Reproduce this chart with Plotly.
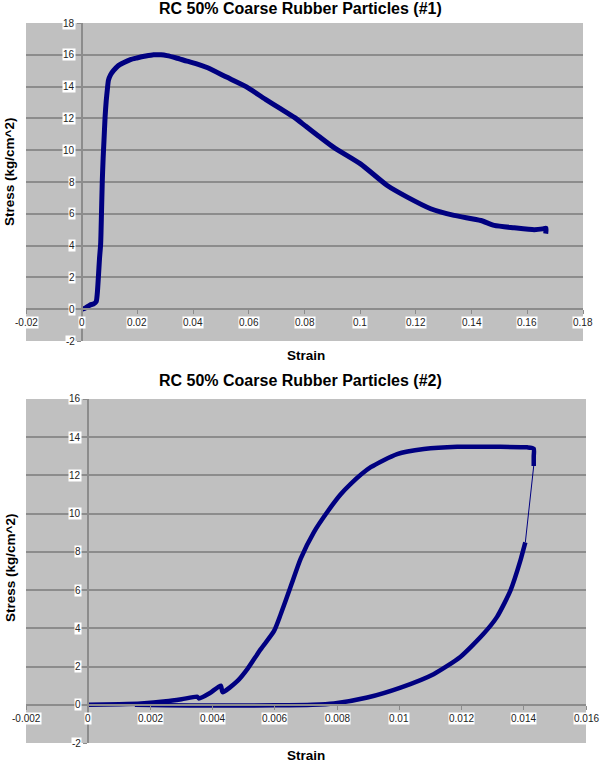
import plotly.graph_objects as go

# ---------------- data ----------------
strain1 = [0, 0.0012, 0.003, 0.0042, 0.0052, 0.0056, 0.006, 0.0064, 0.0068, 0.0071, 0.0074, 0.0077,
           0.008, 0.0084, 0.0088, 0.0092, 0.0096, 0.0104, 0.0114, 0.013, 0.015, 0.0175, 0.0198, 0.023,
           0.0258, 0.0285, 0.0306, 0.034, 0.0378, 0.041, 0.045, 0.052, 0.059, 0.066, 0.0715, 0.0765,
           0.0805, 0.085, 0.0905, 0.1001, 0.1097, 0.1169, 0.1253, 0.1337, 0.1433, 0.1481, 0.1553,
           0.1625, 0.1655, 0.1667, 0.1666]
stress1 = [0, 0.06, 0.27, 0.33, 0.48, 1.0, 2.05, 3.2, 4.1, 6.0, 8.1, 9.5,
           10.6, 12.1, 13.1, 13.8, 14.4, 14.75, 15.0, 15.3, 15.5, 15.7, 15.8, 15.92,
           16.0, 16.0, 15.95, 15.8, 15.6, 15.45, 15.2, 14.6, 14.0, 13.2, 12.6, 12.05,
           11.5, 10.9, 10.18, 9.14, 7.78, 7.05, 6.32, 5.9, 5.58, 5.27, 5.12,
           5.0, 5.05, 5.1, 4.75]

strain2_load = [0, 0.001, 0.0017, 0.0025, 0.003, 0.00351, 0.00356, 0.0039, 0.00426, 0.00432,
                0.0048, 0.00512, 0.00554, 0.00597, 0.00619, 0.00651, 0.00683, 0.00726, 0.00769,
                0.00811, 0.00843, 0.00908, 0.00993, 0.01079, 0.01186, 0.01314, 0.01411, 0.01432,
                0.01432, 0.01432]
stress2_load = [0, 0.03, 0.07, 0.18, 0.29, 0.42, 0.33, 0.6, 1.0, 0.66,
                1.25, 1.88, 2.9, 3.85, 4.75, 6.2, 7.65, 9.05, 10.1,
                11.0, 11.55, 12.43, 13.12, 13.38, 13.5, 13.5, 13.47, 13.4,
                13.0, 12.5]
strain2_unload = [0.01405, 0.01395, 0.01389, 0.01357, 0.01314, 0.0127, 0.01196, 0.0111,
                  0.01004, 0.00897, 0.0079, 0.0072, 0.006, 0.004, 0.0025, 0.0015]
stress2_unload = [8.5, 7.9, 7.54, 5.97, 4.6, 3.7, 2.5, 1.6,
                  0.9, 0.38, 0.07, 0.0, -0.03, -0.04, -0.03, 0.0]

x1_ticks = [-0.02, 0, 0.02, 0.04, 0.06, 0.08, 0.1, 0.12, 0.14, 0.16, 0.18]
x1_labels = ["-0.02", "0", "0.02", "0.04", "0.06", "0.08", "0.1", "0.12", "0.14", "0.16", "0.18"]
y1_ticks = [-2, 0, 2, 4, 6, 8, 10, 12, 14, 16, 18]
y1_labels = ["-2", "0", "2", "4", "6", "8", "10", "12", "14", "16", "18"]
x2_ticks = [-0.002, 0, 0.002, 0.004, 0.006, 0.008, 0.01, 0.012, 0.014, 0.016]
x2_labels = ["-0.002", "0", "0.002", "0.004", "0.006", "0.008", "0.01", "0.012", "0.014", "0.016"]
y2_ticks = [-2, 0, 2, 4, 6, 8, 10, 12, 14, 16]
y2_labels = ["-2", "0", "2", "4", "6", "8", "10", "12", "14", "16"]

title1 = "RC 50% Coarse Rubber Particles (#1)"
title2 = "RC 50% Coarse Rubber Particles (#2)"
xtitle = "Strain"
ytitle = "Stress (kg/cm^2)"

# ---------------- layout geometry ----------------
W, H = 600, 762
FONT = "Liberation Sans, Arial, sans-serif"
NAVY = "#000080"
GRID = "#8C8C8C"

def xdom(l, r):
    return [l / W, r / W]

def ydom(t, b):
    return [1 - b / H, 1 - t / H]

dx1, dy1 = xdom(26, 583), ydom(23, 341)
dx2, dy2 = xdom(26, 586), ydom(399, 743)
rx1, ry1 = [-0.02, 0.18], [-2, 18]
rx2, ry2 = [-0.002, 0.016], [-2, 16]

def zero_pos(dom, rng):
    return dom[0] + (0 - rng[0]) / (rng[1] - rng[0]) * (dom[1] - dom[0])

fig = go.Figure()
fig.add_trace(go.Scatter(x=strain1, y=stress1, mode="lines",
                         line=dict(color=NAVY, width=5, shape="spline", smoothing=0.6),
                         xaxis="x", yaxis="y", showlegend=False))
fig.add_trace(go.Scatter(x=strain2_load, y=stress2_load, mode="lines",
                         line=dict(color=NAVY, width=4.5, shape="spline", smoothing=0.6),
                         xaxis="x2", yaxis="y2", showlegend=False))
fig.add_trace(go.Scatter(x=[strain2_load[-1], strain2_unload[0]],
                         y=[stress2_load[-1], stress2_unload[0]], mode="lines",
                         line=dict(color=NAVY, width=1), xaxis="x2", yaxis="y2",
                         showlegend=False))
fig.add_trace(go.Scatter(x=strain2_unload, y=stress2_unload, mode="lines",
                         line=dict(color=NAVY, width=4.5, shape="spline", smoothing=0.6),
                         xaxis="x2", yaxis="y2", showlegend=False))

def xax(dom, rng, ticks, ydomain, yrng):
    return dict(domain=dom, range=rng, tickvals=ticks, showticklabels=False,
                showgrid=False, zeroline=False, anchor="free",
                position=zero_pos(ydomain, yrng), ticks="outside", ticklen=4,
                tickcolor=GRID, tickwidth=1, showline=True, linecolor=GRID,
                linewidth=1.5, fixedrange=True)

def yax(dom, rng, ticks, xdomain, xrng):
    return dict(domain=dom, range=rng, tickvals=ticks, showticklabels=False,
                showgrid=True, gridcolor=GRID, gridwidth=2, zeroline=False,
                anchor="free", position=zero_pos(xdomain, xrng), ticks="outside",
                ticklen=4, tickcolor=GRID, tickwidth=1, showline=True,
                linecolor=GRID, linewidth=1.5, fixedrange=True)

annotations = []
def tick_labels(xref, yref, xt, xl, yt, yl, yshift):
    for v, t in zip(xt, xl):
        annotations.append(dict(x=v, y=0, xref=xref, yref=yref, text=t, showarrow=False,
                                yshift=yshift, xanchor="center", yanchor="middle",
                                bgcolor="white", borderpad=0,
                                font=dict(family=FONT, size=10, color="#222")))
    for v, t in zip(yt, yl):
        annotations.append(dict(x=0, y=v, xref=xref, yref=yref, text=t, showarrow=False,
                                xshift=-6, xanchor="right", yanchor="middle",
                                bgcolor="white", borderpad=0,
                                font=dict(family=FONT, size=10, color="#222")))

tick_labels("x", "y", x1_ticks, x1_labels, y1_ticks, y1_labels, -13.5)
tick_labels("x2", "y2", x2_ticks, x2_labels, y2_ticks, y2_labels, -14)

def paper_text(text, px, py, size, angle=0):
    annotations.append(dict(x=px / W, y=1 - py / H, xref="paper", yref="paper",
                            text="<b>" + text + "</b>", showarrow=False, textangle=angle,
                            xanchor="center", yanchor="middle",
                            font=dict(family=FONT, size=size, color="black")))

paper_text(title1, 300, 9, 16)
paper_text(title2, 300, 380, 16)
paper_text(xtitle, 306, 355, 13.5)
paper_text(xtitle, 306, 755, 13.5)
paper_text(ytitle, 10, 172, 13.5, -90)
paper_text(ytitle, 10, 568, 13.5, -90)

fig.update_layout(
    width=W, height=H,
    margin=dict(l=0, r=0, t=0, b=0, pad=0),
    paper_bgcolor="white",
    plot_bgcolor="#C0C0C0",
    xaxis=xax(dx1, rx1, x1_ticks, dy1, ry1),
    yaxis=yax(dy1, ry1, y1_ticks, dx1, rx1),
    xaxis2=xax(dx2, rx2, x2_ticks, dy2, ry2),
    yaxis2=yax(dy2, ry2, y2_ticks, dx2, rx2),
    annotations=annotations,
    showlegend=False,
)

fig.write_html("out.html", config={"displayModeBar": False},
               post_script=["document.body.style.margin='0';document.body.style.overflow='hidden';"])
